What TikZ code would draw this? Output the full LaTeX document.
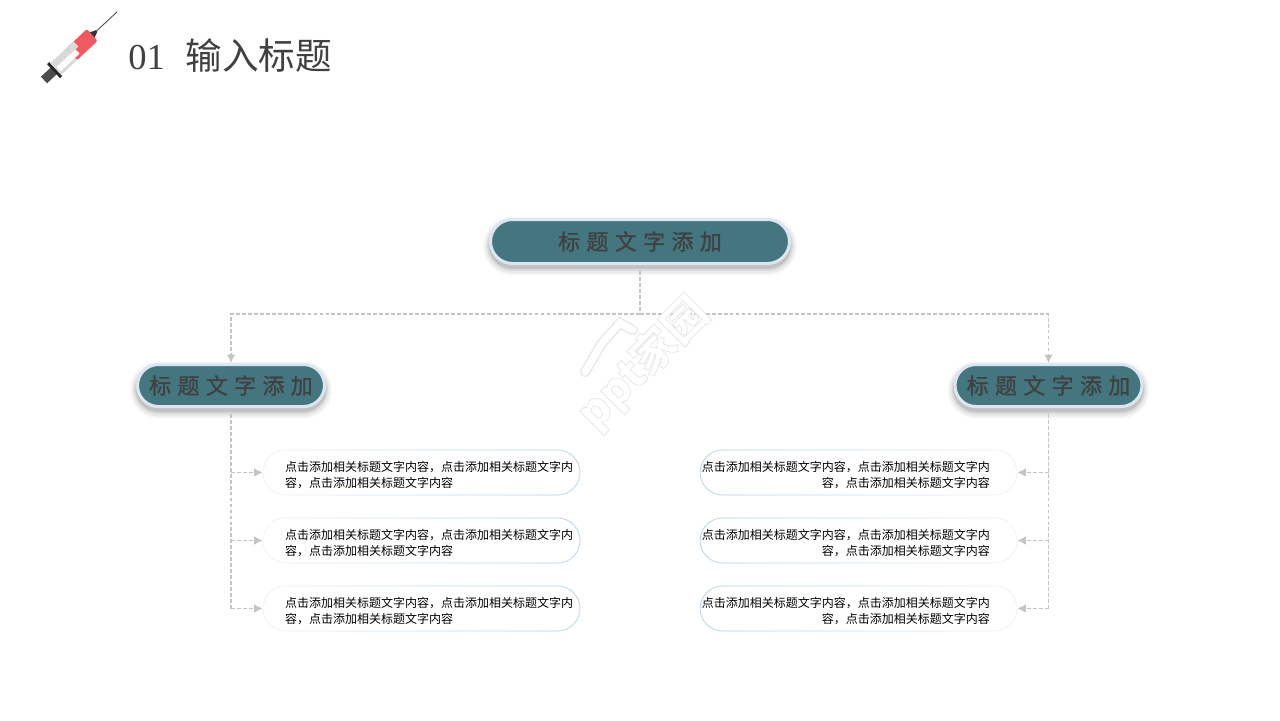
\documentclass[tikz,border=0pt]{standalone}
\usepackage{fontspec}
\usepackage{xcolor}
\usepackage{tikz}
\usetikzlibrary{arrows.meta,positioning,shapes}
\usetikzlibrary{calc}
\usetikzlibrary{fadings}
\setmainfont{Noto Sans CJK SC}
\newfontfamily\digitfont{Liberation Serif}
\newfontfamily\headfont[LetterSpace=29,FakeBold=1]{Noto Sans CJK SC}
\definecolor{headteal}{HTML}{44767F}
\definecolor{headrim}{HTML}{DCE6F2}
\definecolor{inkgray}{HTML}{404040}
\definecolor{linkgray}{HTML}{C4C4C4}
\definecolor{itemrim}{HTML}{B9D3EA}
\definecolor{itemfaint}{HTML}{F0F5FA}
\definecolor{syrred}{HTML}{F0595F}
\definecolor{syrgray}{HTML}{D9D9D9}

\begin{document}
\begin{tikzpicture}[x=.02cm,y=-.02cm,
  softshadow/.style={
    preaction={draw=black,draw opacity=.03,line width=.3cm,transform canvas={yshift=-.09cm}},
    preaction={draw=black,draw opacity=.05,line width=.22cm,transform canvas={yshift=-.09cm}},
    preaction={draw=black,draw opacity=.07,line width=.14cm,transform canvas={yshift=-.08cm}},
    preaction={draw=black,draw opacity=.1,line width=.08cm,transform canvas={yshift=-.07cm}}},
  topbox/.style={draw=headrim,line width=.06cm,fill=headteal,rounded corners=.44cm,
    minimum width=5.98cm,minimum height=.88cm,inner sep=0pt,text=inkgray,softshadow,
    font=\headfont\fontsize{12.5}{14}\selectfont},
  sidebox/.style={topbox,rounded corners=.42cm,minimum width=3.74cm,minimum height=.84cm},
  itemleft/.style={draw=itemfaint,fill=white,rounded corners=.45cm,minimum width=6.34cm,minimum height=.9cm,
    postaction={draw=itemrim,path fading=west}},
  itemright/.style={draw=itemfaint,fill=white,rounded corners=.45cm,minimum width=6.34cm,minimum height=.9cm,
    postaction={draw=itemrim,path fading=east}},
  itemtext/.style={inner sep=0pt,text=black,font=\fontsize{6.83}{9.35}\selectfont},
  link/.style={linkgray,line width=.65pt,dash pattern=on 2.2pt off 1.2pt},
  linkto/.style={link,-{Latex[length=.17cm,width=.17cm]}},
  marktext/.style={inner sep=0pt,font=\bfseries\fontsize{25}{25}\selectfont}]

    \useasboundingbox[fill=white] (0,0) rectangle (1280,720);

    % connectors first, the boxes sit on top
    \coordinate (topjoin) at (640,314);

    \node[topbox](top) at (640,241.5){标题文字添加};
    \node[sidebox](lefthead) at (231,385.5){标题文字添加};
    \node[sidebox](righthead) at (1048.5,385.5){标题文字添加};

    \draw[link](top.south) -- (topjoin);
    \draw[linkto](topjoin) -| (lefthead.north);
    \draw[linkto](topjoin) -| (righthead.north);

    \foreach \n/\y in {1/472.5,2/540.5,3/608.5} {
        \node[itemleft](leftitem\n) at (421.5,\y){};
        \node[itemright](rightitem\n) at (858.5,\y){};
        \node[itemtext,align=left,anchor=west,xshift=.44cm,yshift=-.05cm](lefttext\n) at (leftitem\n.west)
            {点击添加相关标题文字内容，点击添加相关标题文字内\\容，点击添加相关标题文字内容};
        \node[itemtext,align=right,anchor=east,xshift=-.54cm,yshift=-.05cm](righttext\n) at (rightitem\n.east)
            {点击添加相关标题文字内容，点击添加相关标题文字内\\容，点击添加相关标题文字内容};
        \draw[linkto](lefthead.south |- leftitem\n.west) -- (leftitem\n.west);
        \draw[linkto](righthead.south |- rightitem\n.east) -- (rightitem\n.east);
    }
    \draw[link](lefthead.south) -- (lefthead.south |- leftitem3.west);
    \draw[link](righthead.south) -- (righthead.south |- rightitem3.east);

    % heading
    \node[anchor=west,inner sep=0pt,text=inkgray,font=\fontsize{20.8}{24}\selectfont](heading) at (128,56)
        {{\digitfont 01}\hspace{.42cm}输入标题};

    % syringe
    \begin{scope}[shift={(44,80)},rotate=43]
        \fill[black!70] (0,-4.5) rectangle (14,4.5);
        \fill[black!85] (13,-9.5) rectangle (16,9.5);
        \fill[syrgray] (16,-8) rectangle (42,8);
        \fill[white] (18,-1) rectangle (42,5);
        \fill[syrred,rounded corners=.03cm] (38,-8) rectangle (66,8);
        \fill[syrgray] (38,-8) rectangle (48,-1);
        \fill[white] (38,-1) rectangle (44,5);
        \fill[black!80] (66,-3.5) -- (72,-1) -- (72,1) -- (66,3.5) -- cycle;
        \draw[black!70,line width=.5pt] (72,0) -- (100,0);
    \end{scope}

    % watermark
    \draw[black!10,line width=.2cm,line cap=round] (585,372) -- (602,343) -- (620,323) -- (633,330);
    \draw[white,line width=.15cm,line cap=round] (585,372) -- (602,343) -- (620,323) -- (633,330);
    \node[marktext,rotate=45,text=white](mark) at (643,363)
        {\special{pdf:code 1 1 1 rg .9 .9 .9 RG}\addfontfeature{FakeBold=1.5}ppt家园};
\end{tikzpicture}
\end{document}
